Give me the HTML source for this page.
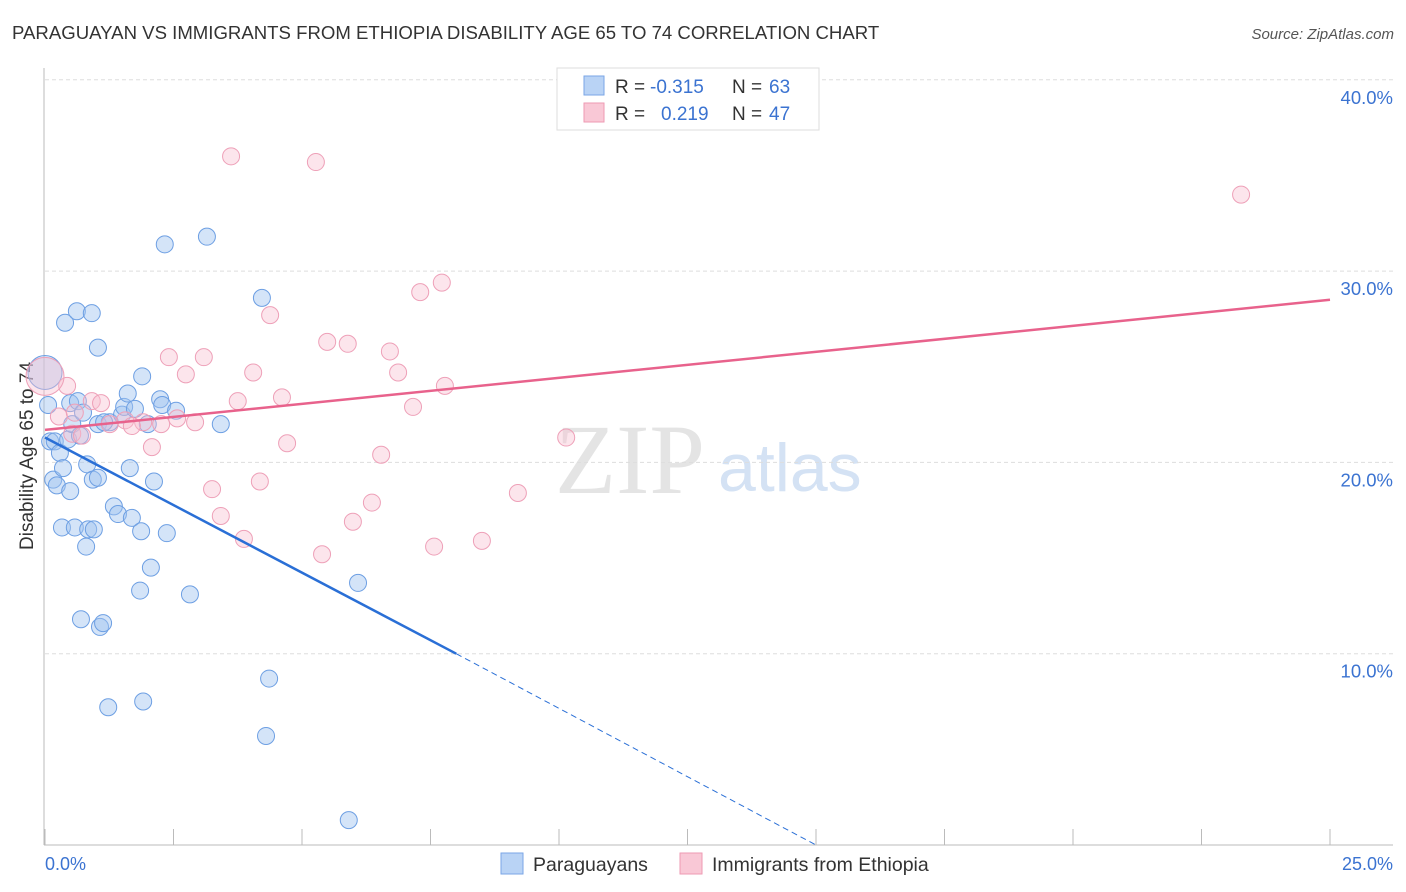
<!DOCTYPE html>
<html><head><meta charset="utf-8"><style>
body{margin:0;background:#fff;font-family:"Liberation Sans",sans-serif}
svg{display:block}
</style></head><body>
<svg id="chart" width="1406" height="892">
<text x="12" y="39" font-size="18.6" fill="#333">PARAGUAYAN VS IMMIGRANTS FROM ETHIOPIA DISABILITY AGE 65 TO 74 CORRELATION CHART</text>
<text x="1394" y="39" font-size="15" fill="#555" font-style="italic" text-anchor="end">Source: ZipAtlas.com</text>
<text x="555" y="493" font-size="100" fill="#e4e4e4" font-family="Liberation Serif,serif">ZIP</text>
<text x="718" y="491" font-size="68" fill="#d4e2f4">atlas</text>
<g id="grid"></g>
<line x1="44" y1="68" x2="44" y2="845" stroke="#bbb"/>
<line x1="44" y1="845" x2="1393" y2="845" stroke="#bbb"/>
<text x="33" y="456" font-size="19" fill="#333" text-anchor="middle" transform="rotate(-90 33 456)">Disability Age 65 to 74</text>
<text x="45" y="870" font-size="18" fill="#3b73d1">0.0%</text>
<text x="1393" y="870" font-size="18" fill="#3b73d1" text-anchor="end">25.0%</text>
<g id="points"></g>
<g id="lines"></g>
<g>
<rect x="557" y="68" width="262" height="62" fill="#fff" stroke="#ddd"/>
<rect x="584" y="76" width="20" height="19" fill="#b9d3f5" stroke="#7aa6e6"/>
<rect x="584" y="103" width="20" height="19" fill="#f9c8d6" stroke="#ee9ab3"/>
<text x="615" y="93" font-size="19" fill="#333">R =</text>
<text x="650" y="93" font-size="19" fill="#3b73d1">-0.315</text>
<text x="732" y="93" font-size="19" fill="#333">N =</text>
<text x="769" y="93" font-size="19" fill="#3b73d1">63</text>
<text x="615" y="120" font-size="19" fill="#333">R =</text>
<text x="661" y="120" font-size="19" fill="#3b73d1">0.219</text>
<text x="732" y="120" font-size="19" fill="#333">N =</text>
<text x="769" y="120" font-size="19" fill="#3b73d1">47</text>
</g>
<g>
<rect x="501" y="853" width="22" height="21" fill="#b9d3f5" stroke="#7aa6e6"/>
<text x="533" y="871" font-size="19.5" fill="#333">Paraguayans</text>
<rect x="680" y="853" width="22" height="21" fill="#f9c8d6" stroke="#ee9ab3"/>
<text x="712" y="871" font-size="19.5" fill="#333">Immigrants from Ethiopia</text>
</g>
</svg>
<script>
const yTicks=[10,20,30,40];
const yTickLabels=["10.0%","20.0%","30.0%","40.0%"];
const xTicks=[0,2.5,5,7.5,10,12.5,15,17.5,20,22.5,25];
const blueX=[0.06,0.10,0.19,0.16,0.23,0.29,0.35,0.39,0.45,0.49,0.49,0.53,0.33,0.58,0.62,0.64,0.68,0.74,0.80,0.82,0.84,0.91,0.93,0.95,1.03,1.03,1.03,1.07,1.13,1.23,1.26,1.34,1.42,1.50,1.54,1.61,1.65,1.69,1.75,1.85,1.87,1.89,1.91,2.00,2.06,2.12,2.24,2.28,2.33,2.37,2.55,2.82,3.15,3.42,4.22,4.30,4.36,5.91,6.09,0.70,1.15,0.0];
const blueY=[23.0,21.1,21.1,19.1,18.8,20.5,19.7,27.3,21.2,18.5,23.1,22.0,16.6,16.6,27.9,23.2,21.4,22.6,15.6,19.9,16.5,27.8,19.1,16.5,26.0,19.2,22.0,11.4,11.6,7.2,22.1,17.7,17.3,22.5,22.9,23.6,19.7,17.1,22.8,13.3,16.4,24.5,7.5,22.0,14.5,19.0,23.3,23.0,31.4,16.3,22.7,13.1,31.8,22.0,28.6,5.7,8.7,1.3,13.7,11.8,22.1,24.7];
const pinkX=[3.62,5.27,23.27,7.72,7.30,4.38,5.49,5.89,6.71,2.41,3.09,2.74,4.05,6.87,7.78,0.43,4.61,3.75,0.91,1.09,7.16,0.27,2.57,1.56,1.91,2.26,2.92,1.26,1.69,0.53,0.72,2.08,4.71,10.14,6.54,9.20,3.25,4.18,6.36,5.99,3.42,3.87,5.39,7.57,8.50,0.0,0.58];
const pinkY=[36.0,35.7,34.0,29.4,28.9,27.7,26.3,26.2,25.8,25.5,25.5,24.6,24.7,24.7,24.0,24.0,23.4,23.2,23.2,23.1,22.9,22.4,22.3,22.2,22.1,22.0,22.1,22.0,21.9,21.5,21.4,20.8,21.0,21.3,20.4,18.4,18.6,19.0,17.9,16.9,17.2,16.0,15.2,15.6,15.9,24.5,22.6];
const blueTrend=[[0,21.3],[8.0,10.0],[15.0,0.0]];
const pinkTrend=[[0,21.7],[25,28.5]];
const NS="http://www.w3.org/2000/svg";
const sx=v=>45+v*51.4;
const sy=v=>845-v*19.13;
function mk(tag,attrs,parent){const e=document.createElementNS(NS,tag);for(const k in attrs)e.setAttribute(k,attrs[k]);parent.appendChild(e);return e;}
const grid=document.getElementById('grid');
yTicks.forEach((t,i)=>{
 const l=mk('line',{x1:45,x2:1393,y1:sy(t),y2:sy(t),stroke:'#ddd','stroke-dasharray':'4,3'},grid);
 
 
 const tx=mk('text',{x:1393,y:sy(t)+24,'font-size':18.5,fill:'#3b73d1','text-anchor':'end'},grid);
 tx.textContent=yTickLabels[i];
 
 
});
xTicks.forEach(t=>{
 const l=mk('line',{x1:sx(t),x2:sx(t),y1:829,y2:845,stroke:'#bbb'},grid);
 
 
});
const pts=document.getElementById('points');
blueX.forEach((x,i)=>{
 const c=mk('circle',{cx:sx(x),cy:sy(blueY[i]),r:(i==blueX.length-1)?17:8.5,fill:'rgba(160,195,240,0.45)',stroke:'#6d9fe3','stroke-width':1},pts);
 
 
});
pinkX.forEach((x,i)=>{
 const c=mk('circle',{cx:sx(x),cy:sy(pinkY[i]),r:(i==45)?19:8.5,fill:'rgba(248,190,208,0.4)',stroke:'#eea0b8','stroke-width':1},pts);
 
 
});
const lines=document.getElementById('lines');
const b1=mk('line',{x1:sx(blueTrend[0][0]),y1:sy(blueTrend[0][1]),x2:sx(blueTrend[1][0]),y2:sy(blueTrend[1][1]),stroke:'#2a6fd6','stroke-width':2.5},lines);


const b2=mk('line',{x1:sx(blueTrend[1][0]),y1:sy(blueTrend[1][1]),x2:sx(blueTrend[2][0]),y2:sy(blueTrend[2][1]),stroke:'#2a6fd6','stroke-width':1,'stroke-dasharray':'6,4'},lines);


const p1=mk('line',{x1:sx(pinkTrend[0][0]),y1:sy(pinkTrend[0][1]),x2:sx(pinkTrend[1][0]),y2:sy(pinkTrend[1][1]),stroke:'#e8628c','stroke-width':2.5},lines);


</script>
</body></html>
